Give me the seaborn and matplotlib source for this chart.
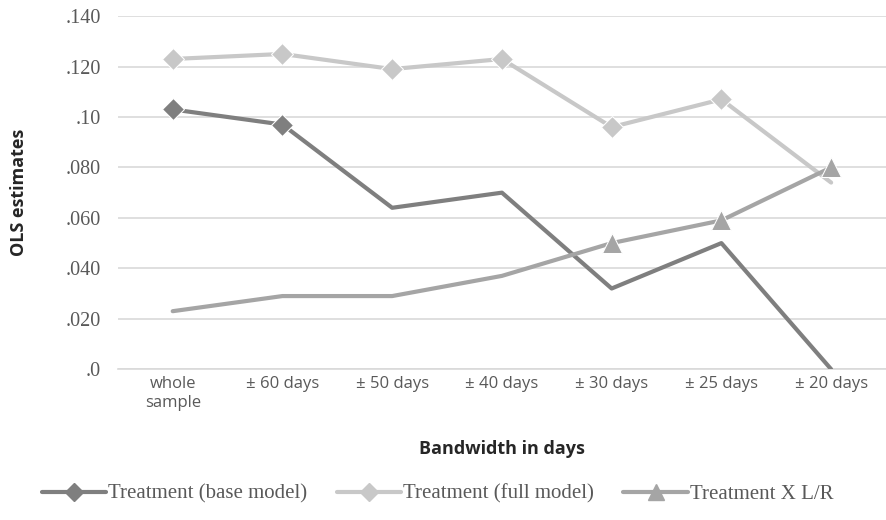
import matplotlib
matplotlib.use("Agg")
import matplotlib.pyplot as plt
from matplotlib.lines import Line2D
import seaborn as sns
import pandas as pd

# bandwidth categories and OLS estimates
categories = ["whole\nsample", "± 60 days", "± 50 days", "± 40 days",
              "± 30 days", "± 25 days", "± 20 days"]
base_model = [0.103, 0.097, 0.064, 0.070, 0.032, 0.050, 0.000]
full_model = [0.123, 0.125, 0.119, 0.123, 0.096, 0.107, 0.074]
treat_lr = [0.023, 0.029, 0.029, 0.037, 0.050, 0.059, 0.080]

# which points carry a marker
base_marks = [0, 1]
full_marks = [0, 1, 2, 3, 4, 5]
lr_marks = [4, 5, 6]

yticks = [0, 0.02, 0.04, 0.06, 0.08, 0.10, 0.12, 0.14]
ytick_labels = [".0", ".020", ".040", ".060", ".080", ".10", ".120", ".140"]

df = pd.DataFrame({"x": range(len(categories)), "base": base_model,
                   "full": full_model, "lr": treat_lr})

sns.set_style("white")
fig = plt.figure(figsize=(8.86, 5.2), dpi=100)
ax = fig.add_axes([0.133, 0.29, 0.867, 0.679])

c_base, c_full, c_lr = "#7f7f7f", "#c8c8c8", "#a5a5a5"

sns.lineplot(data=df, x="x", y="base", ax=ax, color=c_base, lw=3,
             marker="D", markersize=11, markevery=base_marks, zorder=3)
sns.lineplot(data=df, x="x", y="full", ax=ax, color=c_full, lw=3,
             marker="D", markersize=11, markevery=full_marks, zorder=3)
sns.lineplot(data=df, x="x", y="lr", ax=ax, color=c_lr, lw=3,
             marker="^", markersize=14, markevery=lr_marks, zorder=4)

ax.set_xlim(-0.5, len(categories) - 0.5)
ax.set_ylim(0, 0.14)
ax.set_yticks(yticks)
ax.set_yticklabels(ytick_labels, fontfamily="Liberation Serif", fontsize=14.5,
                   color="#595959")
ax.set_xticks(range(len(categories)))
ax.set_xticklabels(categories, fontfamily="Open Sans", fontsize=12,
                   color="#595959", linespacing=1.2)
ax.tick_params(axis="y", length=0, pad=12)
ax.tick_params(axis="x", length=0, pad=5)
ax.grid(axis="y", color="#d9d9d9", lw=1.2)
ax.set_axisbelow(True)
for s in ["top", "right", "left"]:
    ax.spines[s].set_visible(False)
ax.spines["bottom"].set_color("#d9d9d9")
ax.spines["bottom"].set_linewidth(1.2)

ax.set_xlabel("Bandwidth in days", fontfamily="Open Sans", fontsize=13,
              fontweight="bold", labelpad=21)
ax.set_ylabel("OLS estimates", fontfamily="Open Sans", fontsize=13,
              fontweight="bold", labelpad=27)

handles = [
    Line2D([], [], color=c_base, lw=3, marker="D", markersize=9),
    Line2D([], [], color=c_full, lw=3, marker="D", markersize=9),
    Line2D([], [], color=c_lr, lw=3, marker="^", markersize=11),
]
labels = ["Treatment (base model)", "Treatment (full model)", "Treatment X L/R"]
fig.legend(handles, labels, loc="lower center", bbox_to_anchor=(0.494, -0.005),
           ncol=3, frameon=False, handlelength=3.1, handletextpad=0.1,
           columnspacing=1.4,
           prop={"family": "Liberation Serif", "size": 15}, labelcolor="#595959")

fig.savefig("out.png", dpi=100)
